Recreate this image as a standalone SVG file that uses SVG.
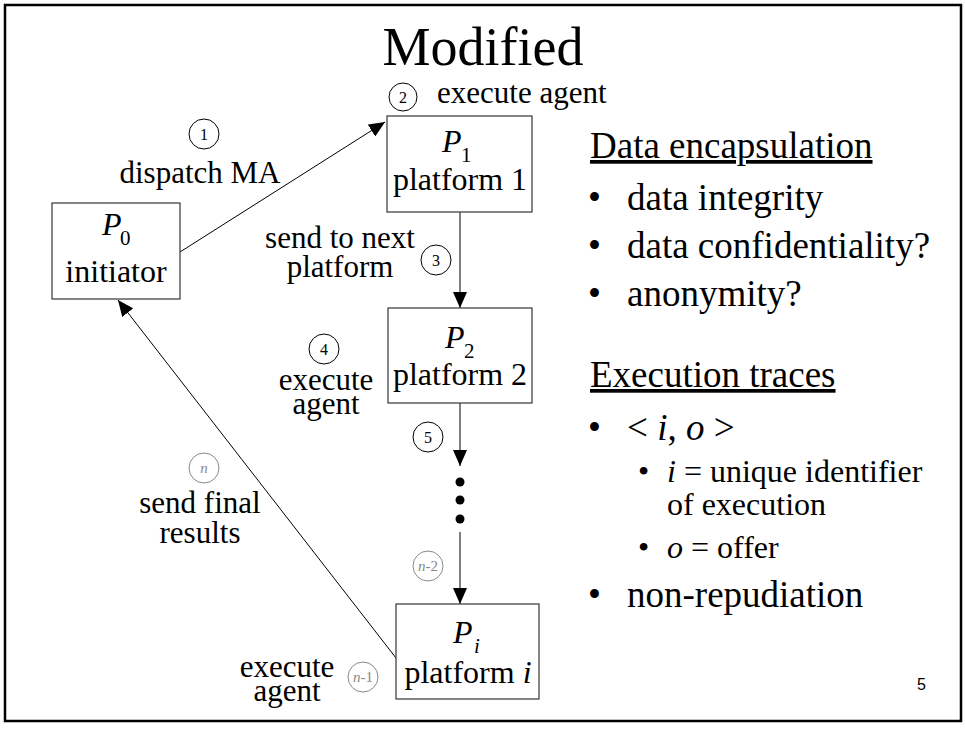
<svg xmlns="http://www.w3.org/2000/svg" width="965" height="729" viewBox="0 0 965 729" font-family="'Liberation Serif', 'Times New Roman', Times, 'DejaVu Serif', serif">
<defs>
<style>
text{font-family:'Liberation Serif','Times New Roman',Times,'DejaVu Serif',serif;fill:#000}
.t{font-size:31px}
.r{font-size:37px}
.s{font-size:32px}
.it{font-style:italic}
.box{fill:#fff;stroke:#444;stroke-width:1.3}
.num{fill:#fff;stroke:#000;stroke-width:1}
.numg{fill:#fff;stroke:#888;stroke-width:1}
.nt{font-size:16px;text-anchor:middle}
.ng{font-size:15px;text-anchor:middle;fill:#888;font-style:italic}
.c{text-anchor:middle}
.pg{font-family:'Liberation Sans',Arial,sans-serif;font-size:16px}
</style>
<marker id="ah" viewBox="0 0 16 14" refX="16" refY="7" markerWidth="16" markerHeight="14" markerUnits="userSpaceOnUse" orient="auto">
<path d="M0,0 L16,7 L0,14 z" fill="#000"/>
</marker>
</defs>
<rect x="5" y="5" width="956" height="716" fill="#fff" stroke="#000" stroke-width="2.5"/>
<text x="483" y="65" class="c" font-size="54">Modified</text>

<g id="connectors">
<line x1="180" y1="252" x2="385" y2="122" stroke="#000" stroke-width="1" marker-end="url(#ah)"/>
<line x1="460" y1="212" x2="460" y2="308" stroke="#555" stroke-width="1.5" marker-end="url(#ah)"/>
<line x1="460" y1="403" x2="460" y2="466" stroke="#555" stroke-width="1.5" marker-end="url(#ah)"/>
<line x1="460" y1="532" x2="460" y2="604" stroke="#555" stroke-width="1.5" marker-end="url(#ah)"/>
<line x1="396" y1="658" x2="118" y2="300" stroke="#000" stroke-width="1" marker-end="url(#ah)"/>
<circle cx="460" cy="482" r="4.5" fill="#000"/>
<circle cx="460" cy="500" r="4.5" fill="#000"/>
<circle cx="460" cy="519" r="4.5" fill="#000"/>
</g>

<g id="P0">
<rect class="box" x="52" y="203" width="128" height="96"/>
<text x="102" y="235" class="s it">P</text><text x="120" y="245" font-size="21">0</text>
<text x="116" y="282" class="s c">initiator</text>
</g>
<g id="P1">
<rect class="box" x="387" y="116" width="145" height="96"/>
<text x="442" y="152" class="s it">P</text><text x="461" y="162" font-size="21">1</text>
<text x="460" y="190" class="s c">platform 1</text>
</g>
<g id="P2">
<rect class="box" x="388" y="308" width="144" height="95"/>
<text x="445" y="348" class="s it">P</text><text x="464" y="358" font-size="21">2</text>
<text x="460" y="385" class="s c">platform 2</text>
</g>
<g id="Pi">
<rect class="box" x="396" y="604" width="143" height="95"/>
<text x="453" y="643" class="s it">P</text><text x="474" y="653" font-size="21" font-style="italic">i</text>
<text x="468" y="683" class="s c">platform <tspan font-style="italic">i</tspan></text>
</g>

<g id="labels">
<circle class="num" cx="204" cy="134" r="15"/><text x="204" y="140" class="nt">1</text>
<text x="200" y="183" class="t c">dispatch MA</text>
<circle class="num" cx="403" cy="97" r="14"/><text x="403" y="103" class="nt">2</text>
<text x="437" y="103" class="t">execute agent</text>
<circle class="num" cx="436" cy="260" r="15"/><text x="436" y="266" class="nt">3</text>
<text x="340" y="248" class="t c">send to next</text>
<text x="340" y="277" class="t c">platform</text>
<circle class="num" cx="324" cy="349" r="15"/><text x="324" y="355" class="nt">4</text>
<text x="326" y="390" class="t c">execute</text>
<text x="326" y="414" class="t c">agent</text>
<circle class="num" cx="428" cy="437" r="15"/><text x="428" y="443" class="nt">5</text>
<circle class="numg" cx="204" cy="468" r="15"/><text x="204" y="473" class="ng">n</text>
<text x="200" y="513" class="t c">send final</text>
<text x="200" y="543" class="t c">results</text>
<circle class="numg" cx="428" cy="566" r="15"/><text x="428" y="571" class="ng">n<tspan font-style="normal">-2</tspan></text>
<circle class="numg" cx="363" cy="677" r="15"/><text x="363" y="682" class="ng">n<tspan font-style="normal">-1</tspan></text>
<text x="287" y="677" class="t c">execute</text>
<text x="287" y="701" class="t c">agent</text>
</g>

<g id="bullets">
<text x="590" y="158" class="r" text-decoration="underline">Data encapsulation</text>
<text x="588" y="210" class="r">•</text><text x="627" y="210" class="r">data integrity</text>
<text x="588" y="258" class="r">•</text><text x="627" y="258" class="r">data confidentiality?</text>
<text x="588" y="306" class="r">•</text><text x="627" y="306" class="r">anonymity?</text>
<text x="590" y="387" class="r" text-decoration="underline">Execution traces</text>
<text x="588" y="440" class="r">•</text><text x="627" y="440" class="r">&lt; <tspan font-style="italic">i</tspan>, <tspan font-style="italic">o</tspan> &gt;</text>
<text x="638" y="482" class="s">•</text><text x="667" y="482" class="s"><tspan font-style="italic">i</tspan> = unique identifier</text>
<text x="667" y="515" class="s">of execution</text>
<text x="638" y="558" class="s">•</text><text x="667" y="558" class="s"><tspan font-style="italic">o</tspan> = offer</text>
<text x="588" y="607" class="r">•</text><text x="627" y="607" class="r">non-repudiation</text>
<text x="917" y="690" class="pg">5</text>
</g>
</svg>
